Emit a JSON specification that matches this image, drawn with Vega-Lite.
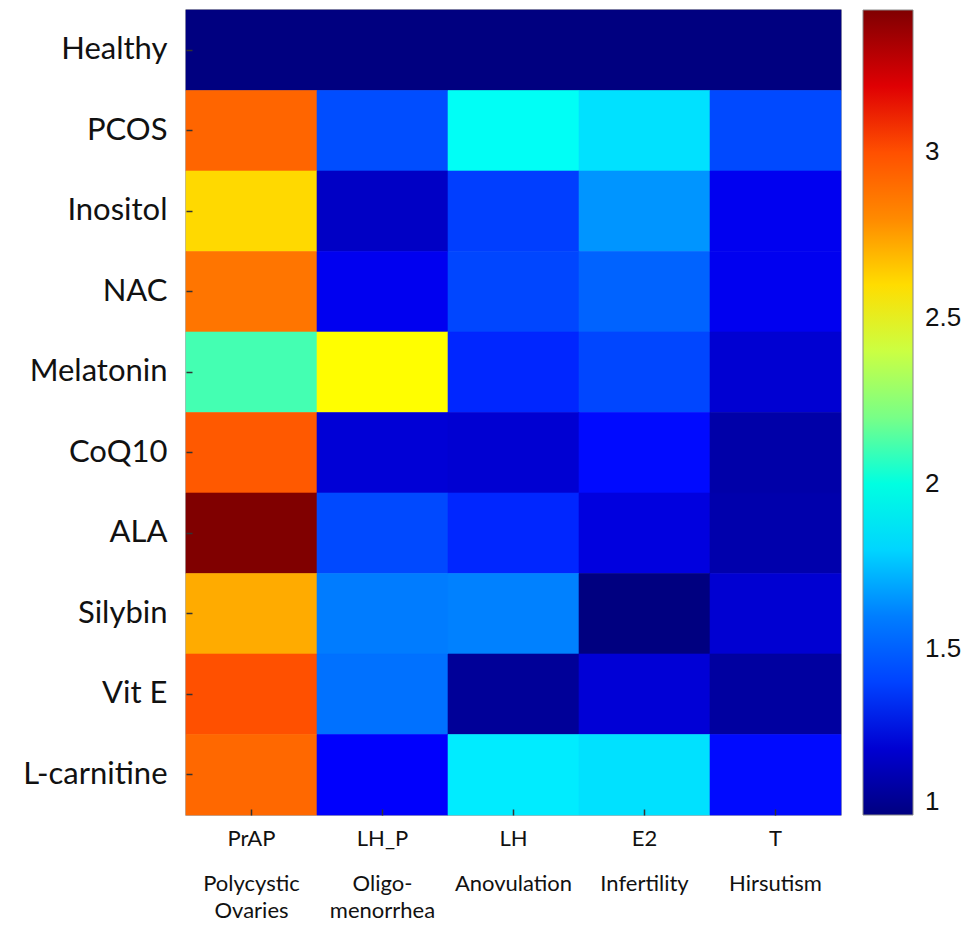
{
  "$schema": "https://vega.github.io/schema/vega-lite/v6.json",
  "autosize": {"type": "none"},
  "padding": {"left": 186, "top": 10, "right": 125, "bottom": 118},
  "width": 655,
  "height": 805,
  "background": "white",
  "config": {
    "view": {"stroke": "#9a9a9a", "strokeWidth": 1.5},
    "axis": {"domain": false, "grid": false}
  },
  "data": {
    "values": [
      {"group": "Healthy", "feature": "PrAP|Polycystic|Ovaries", "ratio": 1.0},
      {"group": "Healthy", "feature": "LH_P|Oligo-|menorrhea", "ratio": 1.0},
      {"group": "Healthy", "feature": "LH|Anovulation", "ratio": 1.0},
      {"group": "Healthy", "feature": "E2|Infertility", "ratio": 1.0},
      {"group": "Healthy", "feature": "T|Hirsutism", "ratio": 1.0},
      {"group": "PCOS", "feature": "PrAP|Polycystic|Ovaries", "ratio": 2.93},
      {"group": "PCOS", "feature": "LH_P|Oligo-|menorrhea", "ratio": 1.43},
      {"group": "PCOS", "feature": "LH|Anovulation", "ratio": 1.94},
      {"group": "PCOS", "feature": "E2|Infertility", "ratio": 1.83},
      {"group": "PCOS", "feature": "T|Hirsutism", "ratio": 1.42},
      {"group": "Inositol", "feature": "PrAP|Polycystic|Ovaries", "ratio": 2.61},
      {"group": "Inositol", "feature": "LH_P|Oligo-|menorrhea", "ratio": 1.17},
      {"group": "Inositol", "feature": "LH|Anovulation", "ratio": 1.39},
      {"group": "Inositol", "feature": "E2|Infertility", "ratio": 1.65},
      {"group": "Inositol", "feature": "T|Hirsutism", "ratio": 1.27},
      {"group": "NAC", "feature": "PrAP|Polycystic|Ovaries", "ratio": 2.87},
      {"group": "NAC", "feature": "LH_P|Oligo-|menorrhea", "ratio": 1.27},
      {"group": "NAC", "feature": "LH|Anovulation", "ratio": 1.41},
      {"group": "NAC", "feature": "E2|Infertility", "ratio": 1.50},
      {"group": "NAC", "feature": "T|Hirsutism", "ratio": 1.27},
      {"group": "Melatonin", "feature": "PrAP|Polycystic|Ovaries", "ratio": 2.11},
      {"group": "Melatonin", "feature": "LH_P|Oligo-|menorrhea", "ratio": 2.52},
      {"group": "Melatonin", "feature": "LH|Anovulation", "ratio": 1.34},
      {"group": "Melatonin", "feature": "E2|Infertility", "ratio": 1.41},
      {"group": "Melatonin", "feature": "T|Hirsutism", "ratio": 1.20},
      {"group": "CoQ10", "feature": "PrAP|Polycystic|Ovaries", "ratio": 2.97},
      {"group": "CoQ10", "feature": "LH_P|Oligo-|menorrhea", "ratio": 1.21},
      {"group": "CoQ10", "feature": "LH|Anovulation", "ratio": 1.20},
      {"group": "CoQ10", "feature": "E2|Infertility", "ratio": 1.31},
      {"group": "CoQ10", "feature": "T|Hirsutism", "ratio": 1.10},
      {"group": "ALA", "feature": "PrAP|Polycystic|Ovaries", "ratio": 3.43},
      {"group": "ALA", "feature": "LH_P|Oligo-|menorrhea", "ratio": 1.42},
      {"group": "ALA", "feature": "LH|Anovulation", "ratio": 1.34},
      {"group": "ALA", "feature": "E2|Infertility", "ratio": 1.23},
      {"group": "ALA", "feature": "T|Hirsutism", "ratio": 1.11},
      {"group": "Silybin", "feature": "PrAP|Polycystic|Ovaries", "ratio": 2.72},
      {"group": "Silybin", "feature": "LH_P|Oligo-|menorrhea", "ratio": 1.59},
      {"group": "Silybin", "feature": "LH|Anovulation", "ratio": 1.61},
      {"group": "Silybin", "feature": "E2|Infertility", "ratio": 1.0},
      {"group": "Silybin", "feature": "T|Hirsutism", "ratio": 1.20},
      {"group": "Vit E", "feature": "PrAP|Polycystic|Ovaries", "ratio": 3.0},
      {"group": "Vit E", "feature": "LH_P|Oligo-|menorrhea", "ratio": 1.55},
      {"group": "Vit E", "feature": "LH|Anovulation", "ratio": 1.06},
      {"group": "Vit E", "feature": "E2|Infertility", "ratio": 1.21},
      {"group": "Vit E", "feature": "T|Hirsutism", "ratio": 1.08},
      {"group": "L-carnitine", "feature": "PrAP|Polycystic|Ovaries", "ratio": 2.92},
      {"group": "L-carnitine", "feature": "LH_P|Oligo-|menorrhea", "ratio": 1.30},
      {"group": "L-carnitine", "feature": "LH|Anovulation", "ratio": 1.86},
      {"group": "L-carnitine", "feature": "E2|Infertility", "ratio": 1.83},
      {"group": "L-carnitine", "feature": "T|Hirsutism", "ratio": 1.31}
    ]
  },
  "resolve": {"axis": {"x": "independent"}},
  "layer": [
    {
      "mark": {"type": "rect", "strokeWidth": 0.6, "stroke": {"expr": "scale('color', datum.ratio)"}},
      "encoding": {
        "x": {
          "field": "feature",
          "type": "nominal",
          "sort": null,
          "scale": {"paddingInner": 0, "paddingOuter": 0},
          "axis": {
            "orient": "bottom",
            "title": null,
            "labelAngle": 0,
            "labelExpr": "split(datum.value, '|')[0]",
            "labelFont": "Lato",
            "labelFontSize": 22,
            "labelColor": "#111",
            "labelBaseline": "top",
            "labelPadding": 19,
            "tickSize": -6,
            "tickColor": "#333",
            "tickWidth": 1.5
          }
        },
        "y": {
          "field": "group",
          "type": "nominal",
          "sort": null,
          "scale": {"paddingInner": 0, "paddingOuter": 0},
          "axis": {
            "title": null,
            "labelFont": "Lato",
            "labelFontSize": 31,
            "labelColor": "#111",
            "labelPadding": 25,
            "tickSize": -6,
            "tickColor": "#333",
            "tickWidth": 1.5
          }
        },
        "color": {
          "field": "ratio",
          "type": "quantitative",
          "scale": {
            "type": "linear",
            "domain": [1, 1.30375, 1.6075, 1.91125, 2.215, 2.51875, 2.8225, 3.12625, 3.43],
            "range": ["#000080", "#0000ff", "#0080ff", "#00ffff", "#80ff80", "#ffff00", "#ff8000", "#ff0000", "#800000"],
            "clamp": true
          },
          "legend": {
            "title": null,
            "orient": "right",
            "direction": "vertical",
            "offset": 22,
            "padding": 0,
            "gradientLength": 805,
            "gradientThickness": 50,
            "gradientStrokeColor": "#888",
            "gradientStrokeWidth": 1,
            "values": [1, 1.5, 2, 2.5, 3],
            "format": ".1~f",
            "labelFont": "Liberation Sans",
            "labelFontSize": 26,
            "labelColor": "#111",
            "labelOffset": 12,
            "labelOverlap": false
          }
        }
      }
    },
    {
      "mark": {"type": "rect", "opacity": 0},
      "encoding": {
        "x": {
          "field": "feature",
          "type": "nominal",
          "sort": null,
          "axis": {
            "orient": "bottom",
            "offset": 45,
            "title": null,
            "labelAngle": 0,
            "labelExpr": "slice(split(datum.value, '|'), 1)",
            "labelFont": "Lato",
            "labelFontSize": 22,
            "labelColor": "#111",
            "labelLineHeight": 27,
            "labelBaseline": "top",
            "labelPadding": 13,
            "ticks": false
          }
        },
        "y": {"field": "group", "type": "nominal", "sort": null}
      }
    }
  ]
}
